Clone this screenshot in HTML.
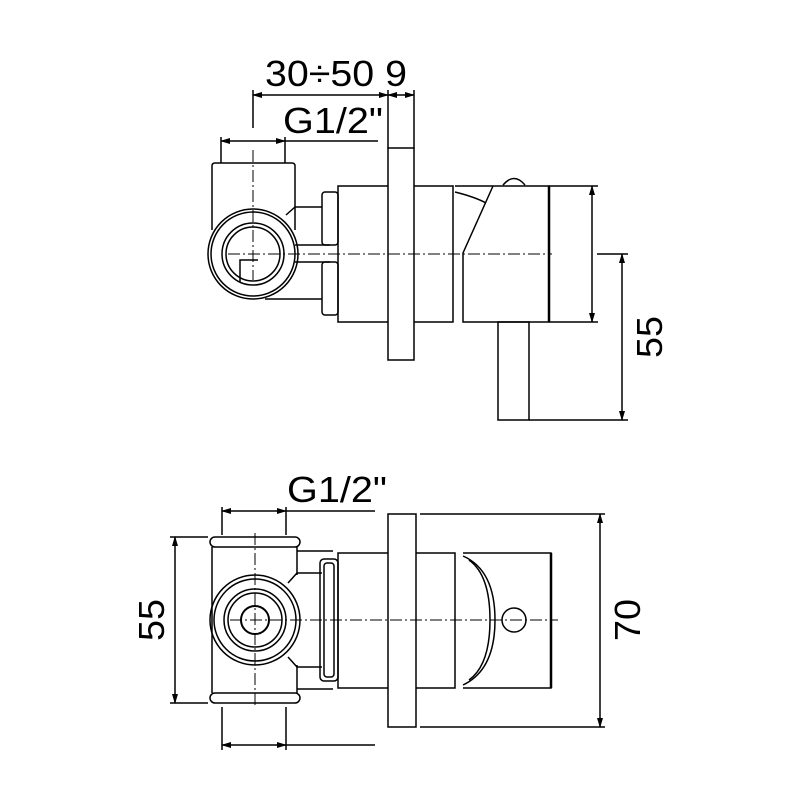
<!DOCTYPE html>
<html><head><meta charset="utf-8"><style>html,body{margin:0;padding:0;background:#fff}svg{display:block}</style></head>
<body>
<svg width="800" height="800" viewBox="0 0 800 800" xmlns="http://www.w3.org/2000/svg">
<defs>
<marker id="a" markerWidth="10" markerHeight="6" refX="9" refY="3" orient="auto-start-reverse" markerUnits="userSpaceOnUse"><path d="M0,0 L10,3 L0,6 z" fill="#000"/></marker>
</defs>
<g fill="none" stroke="#000" stroke-width="1.5">
<line x1="253" y1="95" x2="388" y2="95" marker-start="url(#a)" marker-end="url(#a)"/>
<line x1="388" y1="95" x2="414" y2="95" marker-start="url(#a)" marker-end="url(#a)"/>
<line x1="253" y1="90" x2="253" y2="128"/>
<line x1="388" y1="90" x2="388" y2="148"/>
<line x1="414" y1="90" x2="414" y2="148"/>
<line x1="221" y1="141" x2="285" y2="141" marker-start="url(#a)" marker-end="url(#a)"/>
<line x1="285" y1="141" x2="378" y2="141"/>
<line x1="221" y1="137" x2="221" y2="163"/>
<line x1="285" y1="137" x2="285" y2="163"/>
<rect x="388" y="148" width="26" height="212"/>
<path d="M388,186 H338 V322 H388"/>
<path d="M414,186 H453 V322 H414"/>
<path d="M455,186 H549 V322 H463 V253 L493,186"/>
<line x1="549" y1="186" x2="549" y2="322" stroke-width="2.5"/>
<path d="M455,192 Q475,197 486,203"/>
<path d="M503,185 Q514,172 525,185"/>
<rect x="498" y="322" width="31" height="98"/>
<line x1="549" y1="186" x2="598" y2="186"/>
<line x1="549" y1="322" x2="598" y2="322"/>
<line x1="592" y1="186" x2="592" y2="322" marker-start="url(#a)" marker-end="url(#a)"/>
<line x1="597" y1="254" x2="628" y2="254"/>
<line x1="529" y1="420" x2="628" y2="420"/>
<line x1="622" y1="254" x2="622" y2="420" marker-start="url(#a)" marker-end="url(#a)"/>
<path d="M212,230 V166 Q212,163 215,163 H292 Q295,163 295,166 V230"/>
<circle cx="253" cy="254" r="45"/>
<circle cx="253" cy="254" r="42"/>
<circle cx="253" cy="254" r="31"/>
<circle cx="253" cy="254" r="27"/>
<path d="M295,207 L286,215 M295,207 H322 M295,245 H330 M295,262 H330 M265,299 H322"/>
<rect x="322" y="192" width="16" height="53" rx="3"/>
<rect x="322" y="262" width="16" height="53" rx="3"/>
<path d="M240,282 V260 H258"/>
</g>
<g stroke="#000" stroke-width="1" stroke-dasharray="12,3,2,3" fill="none">
<line x1="228" y1="254" x2="552" y2="254"/>
<line x1="253" y1="150" x2="253" y2="280"/>
<line x1="230" y1="620" x2="558" y2="620"/>
<line x1="255" y1="533" x2="255" y2="708"/>
</g>
<g fill="none" stroke="#000" stroke-width="1.5">
<line x1="222" y1="511" x2="286" y2="511" marker-start="url(#a)" marker-end="url(#a)"/>
<line x1="286" y1="511" x2="375" y2="511"/>
<line x1="222" y1="507" x2="222" y2="535"/>
<line x1="286" y1="507" x2="286" y2="535"/>
<line x1="222" y1="745" x2="286" y2="745" marker-start="url(#a)" marker-end="url(#a)"/>
<line x1="286" y1="745" x2="375" y2="745"/>
<line x1="222" y1="707" x2="222" y2="750"/>
<line x1="286" y1="707" x2="286" y2="750"/>
<line x1="170" y1="537" x2="208" y2="537"/>
<line x1="170" y1="703" x2="208" y2="703"/>
<line x1="175" y1="537" x2="175" y2="703" marker-start="url(#a)" marker-end="url(#a)"/>
<rect x="388" y="514" width="28" height="213"/>
<line x1="420" y1="514" x2="605" y2="514"/>
<line x1="420" y1="727" x2="605" y2="727"/>
<line x1="600" y1="514" x2="600" y2="727" marker-start="url(#a)" marker-end="url(#a)"/>
<path d="M388,553 H338 V688 H388"/>
<path d="M416,553 H455 V688 H416"/>
<path d="M463,553 H551 V688 H463"/>
<line x1="551" y1="553" x2="551" y2="688" stroke-width="2.5"/>
<path d="M463,556 Q495,570 495,620 Q495,670 463,685"/>
<path d="M469,560 Q490,575 490,620 Q490,665 469,680"/>
<circle cx="514" cy="620" r="12"/>
<rect x="210" y="537" width="90" height="10" rx="5"/>
<rect x="210" y="693" width="90" height="10" rx="5"/>
<path d="M212,547 V693 M297,547 V575 M297,665 V693"/>
<path d="M297,551 H333 M297,689 H333"/>
<path d="M297,573 L288,583 M297,667 L288,657 M297,573 H322 M297,667 H322"/>
<rect x="320" y="559" width="18" height="122" rx="4"/>
<rect x="324" y="563" width="10" height="114" rx="3"/>
<circle cx="255" cy="620" r="45"/>
<circle cx="255" cy="620" r="41"/>
<circle cx="255" cy="620" r="31"/>
<circle cx="255" cy="620" r="27"/>
<circle cx="255" cy="620" r="14" stroke-width="2"/>
</g>
<g font-family="Liberation Sans, sans-serif" font-size="36" fill="#000">
<text x="265" y="86" textLength="142" lengthAdjust="spacingAndGlyphs">30÷50 9</text>
<text x="283" y="133" textLength="100" lengthAdjust="spacingAndGlyphs">G1/2"</text>
<text x="287" y="502" textLength="100" lengthAdjust="spacingAndGlyphs">G1/2"</text>
<text transform="translate(662,337) rotate(-90)" text-anchor="middle" textLength="42" lengthAdjust="spacingAndGlyphs">55</text>
<text transform="translate(164,620) rotate(-90)" text-anchor="middle" textLength="42" lengthAdjust="spacingAndGlyphs">55</text>
<text transform="translate(640,620) rotate(-90)" text-anchor="middle" textLength="42" lengthAdjust="spacingAndGlyphs">70</text>
</g>
</svg>
</body></html>
